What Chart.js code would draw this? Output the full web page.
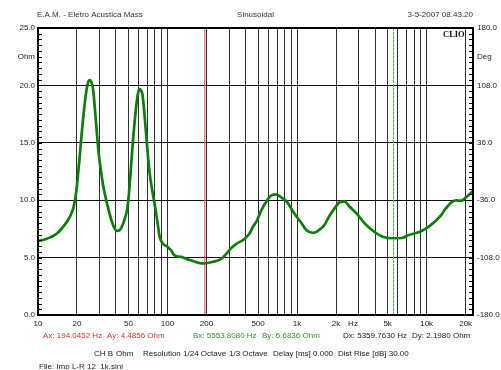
<!DOCTYPE html>
<html>
<head>
<meta charset="utf-8">
<script src="https://cdn.jsdelivr.net/npm/chart.js@4.4.1/dist/chart.umd.min.js"></script>
<style>
  html, body { margin: 0; padding: 0; background: #fff; }
  canvas { display: block; }
</style>
</head>
<body>
<canvas id="c" width="501" height="370"></canvas>
<script>
// Impedance sweep (Ohm) against frequency (Hz)
const FREQ_HZ = [
  10, 11.5, 12.3, 13.5, 14.5, 15.6, 17, 18.1, 19, 19.8,
  20.9, 22.2, 23.6, 24.4, 25.1, 25.9, 26.6, 27.8, 29, 29.9,
  30.5, 31.8, 33.8, 36.9, 39.1, 40.8, 43.3, 46.8, 48.8, 50,
  51.2, 54.2, 57.6, 59.5, 61.1, 62.5, 64.1, 66.9, 69.9, 72.5,
  76, 80, 84, 87, 92.2, 98.6, 104, 107.6, 111.7, 117.6,
  127.7, 140, 157, 178, 194.0452, 224, 262, 285, 313, 342,
  388, 429, 456, 491, 529, 586, 633, 689, 736, 838,
  934, 1067, 1183, 1330, 1440, 1617, 1786, 1980, 2111, 2333,
  2516, 2886, 3336, 3966, 4625, 5553.808, 6423, 7170, 9040, 10700,
  12900, 14000, 15600, 17000, 18400, 20200, 22800
];
const IMPEDANCE_OHM = [
  6.42, 6.62, 6.74, 6.98, 7.25, 7.67, 8.25, 8.83, 9.6, 10.85,
  13.6, 16.9, 19.5, 20.3, 20.46, 20.25, 19.7, 17.3, 14.8, 13.4,
  12.7, 11.3, 9.9, 8.25, 7.53, 7.32, 7.47, 8.39, 9.2, 10.2,
  11.6, 15.3, 18.4, 19.45, 19.68, 19.55, 19.2, 17.0, 14.4, 12.5,
  10.9, 9.5, 7.9, 6.8, 6.2, 5.99, 5.75, 5.58, 5.25, 5.12,
  5.06, 4.89, 4.71, 4.52, 4.4856, 4.63, 4.92, 5.35, 5.87, 6.22,
  6.57, 7.09, 7.67, 8.25, 9.11, 9.98, 10.42, 10.5, 10.33, 9.84,
  8.97, 8.1, 7.38, 7.15, 7.32, 7.81, 8.68, 9.4, 9.8, 9.9,
  9.5, 8.83, 7.96, 7.23, 6.8, 6.6836, 6.71, 6.94, 7.29, 7.81,
  8.68, 9.26, 9.84, 9.98, 9.95, 10.27, 10.79
];

// Cursor readouts
const CURSOR_A_HZ = 194.0452, CURSOR_A_OHM = 4.4856;
const CURSOR_B_HZ = 5553.8080, CURSOR_B_OHM = 6.6836;

// Axis ticks
const X_GRID_HZ = [10,20,30,40,50,60,70,80,90,100,200,300,400,500,600,700,800,900,
  1000,2000,3000,4000,5000,6000,7000,8000,9000,10000,20000];
const X_LABELS = {10:'10',20:'20',50:'50',100:'100',200:'200',500:'500',1000:'1k',
  2000:'2k',5000:'5k',10000:'10k',20000:'20k'};
const OHM_TICKS = [0, 5, 10, 15, 20, 25];
const DEG_TICKS = [-180, -108, -36, 36, 108, 180];

const FONT = "'Liberation Sans', Arial, sans-serif";
const TXT = '#222';

const round3 = v => Math.round(v * 1000) / 1000;

const textPlugin = {
  id: 'panelText',
  afterDraw(chart) {
    const ctx = chart.ctx;
    const a = chart.chartArea;
    const y = chart.scales.y;
    ctx.save();
    // minor ticks on both vertical edges
    ctx.strokeStyle = '#000';
    ctx.lineWidth = 1;
    for (let i = 0; i <= 50; i++) {
      const py = Math.round(y.getPixelForValue(i * 0.5)) + 0.5;
      ctx.beginPath();
      ctx.moveTo(a.left, py); ctx.lineTo(a.left + 4, py);
      ctx.moveTo(a.right - 4, py); ctx.lineTo(a.right, py);
      ctx.stroke();
    }
    // frame
    ctx.lineWidth = 2;
    ctx.strokeStyle = '#000';
    ctx.strokeRect(a.left, a.top, a.right - a.left, a.bottom - a.top);

    ctx.textBaseline = 'middle';
    ctx.font = '8px ' + FONT;
    ctx.fillStyle = '#333';
    ctx.textAlign = 'left';
    ctx.fillText('E.A.M. - Eletro Acustica Mass', 37, 15);
    ctx.textAlign = 'center';
    ctx.fillText('Sinusoidal', 255.5, 15);
    ctx.textAlign = 'right';
    ctx.fillText('3-5-2007 08.43.20', 473, 15);

    // side unit labels
    ctx.fillStyle = TXT;
    ctx.textAlign = 'right';
    ctx.fillText('Ohm', 35, y.getPixelForValue(22.5));
    ctx.textAlign = 'left';
    ctx.fillText('Deg', 477, chart.scales.y2.getPixelForValue(144));
    ctx.textAlign = 'center';
    ctx.fillText('Hz', 353, 324);

    // logo
    ctx.font = 'bold 8.5px "Liberation Serif", "Times New Roman", serif';
    ctx.fillStyle = '#111';
    ctx.textAlign = 'left';
    ctx.fillText('CLIO', 443, 35);

    // cursor readouts
    ctx.font = '8px ' + FONT;
    ctx.textAlign = 'left';
    ctx.fillStyle = '#e5392f';
    ctx.fillText('Ax: ' + CURSOR_A_HZ.toFixed(4) + ' Hz', 43, 336);
    ctx.fillText('Ay: ' + CURSOR_A_OHM.toFixed(4) + ' Ohm', 107, 336);
    ctx.fillStyle = '#2e9a2e';
    ctx.fillText('Bx: ' + CURSOR_B_HZ.toFixed(4) + ' Hz', 193, 336);
    ctx.fillText('By: ' + CURSOR_B_OHM.toFixed(4) + ' Ohm', 262, 336);
    ctx.fillStyle = TXT;
    ctx.fillText('Dx: ' + round3(CURSOR_B_HZ - CURSOR_A_HZ).toFixed(4) + ' Hz', 343, 336);
    ctx.fillText('Dy: ' + round3(CURSOR_B_OHM - CURSOR_A_OHM).toFixed(4) + ' Ohm', 412, 336);

    // measurement settings
    const info = [['CH B', 94], ['Ohm', 116], ['Resolution 1/24 Octave', 143],
      ['1/3 Octave', 229], ['Delay [ms] 0.000', 273], ['Dist Rise [dB] 30.00', 338]];
    info.forEach(([t, x]) => ctx.fillText(t, x, 354));
    ctx.fillText('File: Imp L-R 12  1k.sini', 39, 367);
    ctx.restore();
  }
};

const curve = FREQ_HZ.map((f, i) => ({ x: f, y: IMPEDANCE_OHM[i] }));

new Chart(document.getElementById('c'), {
  type: 'line',
  data: {
    datasets: [
      {
        data: curve,
        borderColor: '#0a7d0a',
        borderWidth: 2.7,
        pointRadius: 0,
        cubicInterpolationMode: 'monotone',
        yAxisID: 'y'
      },
      {
        data: [{ x: CURSOR_A_HZ, y: 0 }, { x: CURSOR_A_HZ, y: 25 }],
        borderColor: '#e8403f',
        borderWidth: 1,
        pointRadius: 0,
        yAxisID: 'y'
      },
      {
        data: [{ x: CURSOR_B_HZ, y: 0 }, { x: CURSOR_B_HZ, y: 25 }],
        borderColor: '#3fbf3f',
        borderWidth: 1,
        borderDash: [3, 1],
        pointRadius: 0,
        yAxisID: 'y'
      }
    ]
  },
  options: {
    responsive: false,
    devicePixelRatio: 1,
    animation: false,
    events: [],
    layout: { padding: { top: 28, left: 0, right: 0, bottom: 0 } },
    plugins: { legend: { display: false }, tooltip: { enabled: false } },
    scales: {
      x: {
        type: 'logarithmic',
        min: 10,
        max: 22800,
        afterBuildTicks: s => { s.ticks = X_GRID_HZ.map(v => ({ value: v })); },
        afterFit: s => { s.height = 55; },
        ticks: {
          autoSkip: false, maxRotation: 0, minRotation: 0, padding: 4,
          color: TXT, font: { size: 8, family: FONT },
          callback: v => X_LABELS[v] || ''
        },
        grid: { color: '#333', lineWidth: 1, drawTicks: false },
        border: { display: false }
      },
      y: {
        position: 'left',
        min: 0, max: 25,
        afterBuildTicks: s => { s.ticks = OHM_TICKS.map(v => ({ value: v })); },
        afterFit: s => { s.width = 38; },
        ticks: {
          padding: 3, color: TXT, font: { size: 8, family: FONT },
          callback: v => v.toFixed(1)
        },
        grid: { color: '#111', lineWidth: 1, drawTicks: false },
        border: { display: false }
      },
      y2: {
        position: 'right',
        min: -180, max: 180,
        afterBuildTicks: s => { s.ticks = DEG_TICKS.map(v => ({ value: v })); },
        afterFit: s => { s.width = 28; },
        ticks: {
          padding: 4, color: TXT, font: { size: 8, family: FONT },
          callback: v => v.toFixed(1)
        },
        grid: { display: false, drawTicks: false },
        border: { display: false }
      }
    }
  },
  plugins: [textPlugin]
});
</script>
</body>
</html>
